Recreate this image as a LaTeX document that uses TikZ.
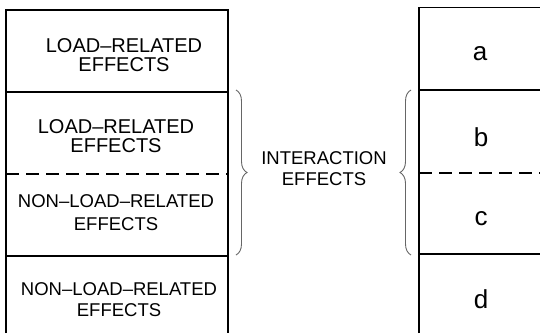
\documentclass[tikz,border=0pt]{standalone}
\usepackage{fontspec}
\setmainfont{Liberation Sans}
\usetikzlibrary{decorations.pathreplacing, positioning}
\tikzstyle{rule}=[line width=1.6pt]
\tikzstyle{split}=[line width=1.2pt, dash pattern=on 13pt off 7pt]
\tikzstyle{effect}=[font=\fontsize{20}{19}\selectfont, align=center, inner sep=0pt]
\tikzstyle{part}=[font=\fontsize{26}{28}\selectfont, inner sep=0pt]
\tikzstyle{curly}=[draw=black!60, line width=0.9pt, decorate, decoration={brace, amplitude=11pt}]

\begin{document}
\begin{tikzpicture}[x=1pt, y=-1pt]
\useasboundingbox (0,0) rectangle (540,333);

% left column
\draw[rule] (6,333) -- (6,10) -- (228,10) -- (228,333);
\draw[rule] (6,92) -- (228,92);
\draw[split] (6,174) -- (228,174);
\draw[rule] (6,256) -- (228,256);
\node[effect] (load1) at (124,55) {LOAD--RELATED\\EFFECTS};
\node[effect] (load2) at (116,136) {LOAD--RELATED\\EFFECTS};
\node[effect, font=\fontsize{18.5}{19}\selectfont] (nonload1) at (116,213) {NON--LOAD--RELATED\\[4pt]EFFECTS};
\node[effect, font=\fontsize{18.5}{19}\selectfont] (nonload2) at (119,300) {NON--LOAD--RELATED\\[2pt]EFFECTS};

% right column
\draw[rule] (419,333) -- (419,7.5) -- (540,7.5);
\draw[rule] (419,90) -- (540,90);
\draw[split] (419,173) -- (540,173);
\draw[rule] (419,254) -- (540,254);
\node[part] (a) at (480,54) {a};
\node[part] (b) at (481,137) {b};
\node[part] (c) at (481,219) {c};
\node[part] (d) at (481,299) {d};

% braces and the label between them
\draw[curly] (236,90) -- (236,255);
\draw[curly] (411,255) -- (411,90);
\node[effect, font=\fontsize{18.5}{21}\selectfont] (inter) at (324,169) {INTERACTION\\EFFECTS};
\end{tikzpicture}
\end{document}
